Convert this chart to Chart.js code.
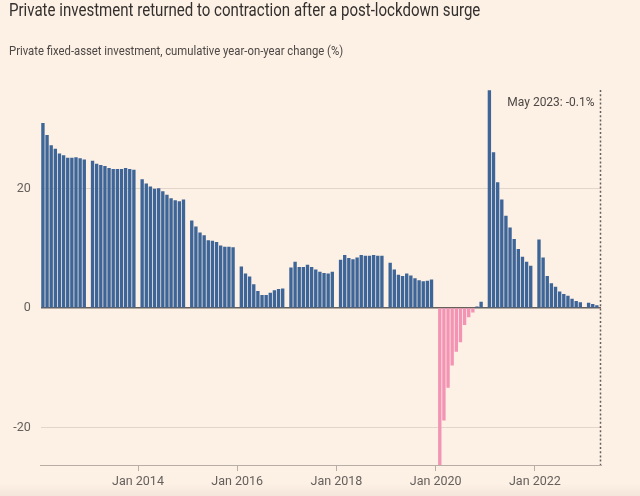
<!DOCTYPE html>
<html lang="en">
<head>
  <meta charset="UTF-8">
  <title>Private investment</title>
  <style>
    html, body {
      margin: 0;
      padding: 0;
      background: #fdf0e5;
    }
    #wrap {
      position: relative;
      width: 640px;
      height: 496px;
      overflow: hidden;
      background: #fdf0e5;
    }
    #title {
      position: absolute;
      left: 9px;
      top: 0px;
      font-family: Roboto, sans-serif;
      font-size: 17.5px;
      line-height: 20px;
      color: #33302e;
      white-space: nowrap;
      transform-origin: left top;
      transform: scaleX(0.86);
    }
    #subtitle {
      position: absolute;
      left: 9px;
      top: 42.6px;
      font-family: Roboto, sans-serif;
      font-size: 13px;
      line-height: 16px;
      color: #4d4845;
      white-space: nowrap;
      transform-origin: left top;
      transform: scaleX(0.87);
    }
    #shade {
      position: absolute;
      left: 0;
      right: 0;
      bottom: 0;
      height: 12px;
      background: linear-gradient(to bottom, rgba(0,0,0,0), rgba(60,40,20,0.05));
      pointer-events: none;
    }
    canvas {
      position: absolute;
      left: 0;
      top: 0;
    }
  </style>
  <script src="https://cdn.jsdelivr.net/npm/chart.js@4/dist/chart.umd.min.js"></script>
</head>
<body>
<div id="wrap">
  <canvas id="chart" width="640" height="496"></canvas>
  <div id="title">Private investment returned to contraction after a post-lockdown surge</div>
  <div id="subtitle">Private fixed-asset investment, cumulative year-on-year change (%)</div>
  <div id="shade"></div>
</div>

<script>
  // cumulative yoy % for Feb..Dec of each year (Jan is not published separately)
  const v2012 = [30.9, 28.9, 27.2, 26.6, 25.8, 25.5, 25.1, 25.1, 25.2, 25.0, 24.8];
  const v2013 = [24.6, 24.1, 23.9, 23.7, 23.4, 23.2, 23.2, 23.2, 23.4, 23.2, 23.1];
  const v2014 = [21.5, 20.8, 20.3, 19.9, 20.0, 19.5, 18.9, 18.3, 18.0, 17.8, 18.1];
  const v2015 = [14.6, 13.6, 12.6, 12.1, 11.3, 11.2, 11.0, 10.4, 10.2, 10.2, 10.1];
  const v2016 = [6.9, 5.7, 5.2, 3.9, 2.8, 2.1, 2.1, 2.5, 2.9, 3.1, 3.2];
  const v2017 = [6.7, 7.7, 6.8, 6.8, 7.2, 6.8, 6.4, 6.0, 5.8, 5.7, 6.0];
  const v2018 = [8.0, 8.8, 8.3, 8.1, 8.4, 8.8, 8.7, 8.7, 8.8, 8.7, 8.7];
  const v2019 = [7.5, 6.4, 5.5, 5.3, 5.7, 5.4, 4.9, 4.6, 4.4, 4.5, 4.7];
  const v2020 = [-26.4, -18.8, -13.3, -9.6, -7.3, -5.7, -2.8, -1.5, -0.7, 0.2, 1.0];
  const v2021 = [36.4, 26.0, 21.0, 18.1, 15.4, 13.4, 11.5, 9.8, 8.5, 7.7, 7.0];
  const v2022 = [11.4, 8.4, 5.3, 4.1, 3.5, 2.7, 2.3, 2.0, 1.5, 1.1, 0.9];
  const v2023 = [0.8, 0.6, 0.4, -0.1];

  const years = [2012, 2013, 2014, 2015, 2016, 2017, 2018, 2019, 2020, 2021, 2022, 2023];
  const yearValues = [v2012, v2013, v2014, v2015, v2016, v2017, v2018, v2019, v2020, v2021, v2022, v2023];

  // x ticks: months since Jan 2012
  const xTickMonths = [24, 48, 72, 96, 120];
  const xTickLabels = ['Jan 2014', 'Jan 2016', 'Jan 2018', 'Jan 2020', 'Jan 2022'];
  const yTicks = [-20, 0, 20];

  const BLUE = '#3d6597';
  const PINK = '#f394b5';
  const LAST = 136; // May 2023

  // build points (Feb = month 1 of each year)
  const points = [];
  years.forEach((yr, i) => {
    yearValues[i].forEach((v, k) => {
      points.push({ x: (yr - 2012) * 12 + 1 + k, y: v });
    });
  });

  // dotted marker + label for the latest reading
  const latestMarker = {
    id: 'latestMarker',
    afterDatasetsDraw(chart) {
      const { ctx, chartArea, scales } = chart;
      const x = Math.round(scales.x.getPixelForValue(LAST)) - 0.5;
      ctx.save();
      ctx.strokeStyle = '#66605c';
      ctx.lineWidth = 1.5;
      ctx.setLineDash([2, 2.2]);
      ctx.beginPath();
      ctx.moveTo(x, chartArea.top);
      ctx.lineTo(x, chartArea.bottom);
      ctx.stroke();
      ctx.setLineDash([]);
      ctx.fillStyle = '#4d4845';
      ctx.font = '12px Roboto, sans-serif';
      ctx.textAlign = 'right';
      ctx.textBaseline = 'middle';
      ctx.fillText('May 2023: -0.1%', x - 6, 102.5);
      ctx.restore();
    }
  };

  new Chart(document.getElementById('chart'), {
    type: 'bar',
    data: {
      datasets: [{
        data: points,
        backgroundColor: points.map(p => p.y < 0 ? PINK : BLUE),
        barThickness: 2.7,
        borderWidth: 0
      }]
    },
    options: {
      responsive: false,
      animation: false,
      layout: { padding: { top: 90, right: 39, left: 0, bottom: 0 } },
      plugins: {
        legend: { display: false },
        tooltip: { enabled: false }
      },
      scales: {
        x: {
          type: 'linear',
          offset: false,
          min: 0.46,
          max: LAST,
          afterBuildTicks(scale) {
            scale.ticks = xTickMonths.map(v => ({ value: v }));
          },
          afterFit(scale) {
            scale.height = 31;
          },
          ticks: {
            autoSkip: false,
            maxRotation: 0,
            padding: 3,
            color: '#66605c',
            font: { family: 'Roboto', size: 12.5 },
            callback: (v) => xTickLabels[xTickMonths.indexOf(v)]
          },
          grid: {
            offset: false,
            drawOnChartArea: false,
            drawTicks: true,
            tickLength: 6,
            color: '#b8aea6'
          },
          border: { display: true, color: '#b8aea6', width: 1 }
        },
        y: {
          min: -26.3,
          max: 36.5,
          afterBuildTicks(scale) {
            scale.ticks = yTicks.map(v => ({ value: v }));
          },
          afterFit(scale) {
            scale.width = 40.7;
          },
          ticks: {
            padding: 10,
            color: '#66605c',
            font: { family: 'Roboto', size: 12.5 }
          },
          grid: {
            drawTicks: false,
            color: (c) => c.tick && c.tick.value === 0 ? '#66605c' : '#e3d5ca',
            lineWidth: (c) => c.tick && c.tick.value === 0 ? 1.5 : 1
          },
          border: { display: false }
        }
      }
    },
    plugins: [latestMarker]
  });
</script>
</body>
</html>
